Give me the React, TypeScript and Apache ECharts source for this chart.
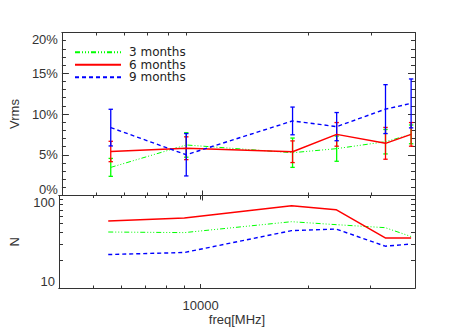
import React, { useEffect, useRef } from "react";
import * as echarts from "echarts";

const freqs = [5500, 9000, 18000, 24000, 33000, 39000];
const seriesNames = ["3 months", "6 months", "9 months"];
const vrms3 = [3.45, 6.2, 5.25, 5.75, 6.6, 7.5];
const err3 = [1.1, 1.5, 1.8, 1.55, 1.5, 1.15];
const vrms6 = [5.4, 5.8, 5.37, 7.5, 6.4, 7.5];
const err6 = [1.25, 1.4, 1.33, 1.45, 1.95, 1.45];
const vrms9 = [8.33, 5.0, 9.15, 8.45, 10.6, 11.3];
const err9 = [2.25, 2.6, 1.7, 1.73, 3.0, 3.0];
const n3 = [40.3, 39.7, 52.1, 48.4, 44.9, 36.0];
const n6 = [52.9, 57.0, 77.5, 70.2, 34.8, 34.8];
const n9 = [23.0, 24.2, 41.7, 43.4, 28.3, 29.9];
const xMajorTicks = [10000];
const xMinorTicks = [5000, 6000, 7000, 8000, 9000, 20000, 30000];
const nMajorTicks = [10, 100];
const nMinorTicks = [20, 30, 40, 50, 60, 70, 80, 90];

const colors = ["#00ff00", "#ff0000", "#0000ff"];
const lineStyles: any[] = [
  { color: colors[0], width: 1, type: [5, 2, 1, 2, 1, 2, 1, 2] },
  { color: colors[1], width: 1.5, type: "solid" },
  { color: colors[2], width: 1.4, type: [4, 3] },
];

const AXIS_COLOR = "#333";
const FONT = "Liberation Sans";

function pts(vals: number[]) {
  return freqs.map((f, i) => [f, vals[i]]);
}
function errs(c: number[], e: number[]) {
  return freqs.map((f, i) => [f, c[i] - e[i], c[i] + e[i]]);
}

export default function App() {
  const ref = useRef<HTMLDivElement>(null);
  useEffect(() => {
    const chart = echarts.init(ref.current!, null, { renderer: "svg" });

    const xBase = (gridIndex: number, position: string, ticks: number[], len: number, extra: any = {}) => ({
      type: "log",
      logBase: 10,
      gridIndex,
      position,
      min: 4000,
      max: 40000,
      axisLine: { show: true, lineStyle: { color: AXIS_COLOR, width: 1 } },
      axisTick: { show: true, inside: true, length: len, customValues: ticks, lineStyle: { color: AXIS_COLOR } },
      axisLabel: { show: false },
      splitLine: { show: false },
      minorTick: { show: false },
      ...extra,
    });

    const xAxis: any[] = [
      xBase(0, "bottom", xMajorTicks, 5),
      xBase(0, "top", xMajorTicks, 5),
      xBase(0, "bottom", xMinorTicks, 3),
      xBase(0, "top", xMinorTicks, 3),
      xBase(1, "bottom", xMajorTicks, 4, {
        axisLabel: {
          show: true,
          customValues: xMajorTicks,
          color: AXIS_COLOR,
          fontSize: 13,
          fontFamily: FONT,
          margin: 11,
          formatter: (v: number) => String(Math.round(v)),
        },
        name: "freq[MHz]",
        nameLocation: "middle",
        nameGap: 23,
        nameTextStyle: { color: AXIS_COLOR, fontSize: 13, fontFamily: FONT },
      }),
      xBase(1, "top", xMajorTicks, 4),
      xBase(1, "bottom", xMinorTicks, 2.5),
      xBase(1, "top", xMinorTicks, 2.5),
    ];

    const pctAxis = (position: string, withLabel: boolean) => ({
      type: "value",
      gridIndex: 0,
      position,
      min: 0,
      max: 20,
      interval: 5,
      axisLine: { show: true, lineStyle: { color: AXIS_COLOR, width: 1 } },
      axisTick: { show: true, inside: true, length: 7, lineStyle: { color: AXIS_COLOR } },
      minorTick: { show: true, splitNumber: 5, length: 4, lineStyle: { color: AXIS_COLOR } },
      axisLabel: {
        show: withLabel,
        formatter: "{value}%",
        color: AXIS_COLOR,
        fontSize: 13,
        fontFamily: FONT,
        margin: 4,
        verticalAlignMinLabel: "bottom",
        verticalAlignMaxLabel: "top",
      },
      splitLine: { show: false },
      ...(withLabel
        ? {
            name: "Vrms",
            nameLocation: "middle",
            nameGap: 38,
            nameTextStyle: { color: AXIS_COLOR, fontSize: 13, fontFamily: FONT },
          }
        : {}),
    });

    const nAxis = (position: string, ticks: number[], len: number, withLabel: boolean, showLine: boolean) => ({
      type: "log",
      logBase: 10,
      gridIndex: 1,
      position,
      min: 10,
      max: 100,
      axisLine: { show: showLine, lineStyle: { color: AXIS_COLOR, width: 1 } },
      axisTick: { show: true, inside: true, length: len, customValues: ticks, lineStyle: { color: AXIS_COLOR } },
      axisLabel: {
        show: withLabel,
        customValues: nMajorTicks,
        color: AXIS_COLOR,
        fontSize: 13,
        fontFamily: FONT,
        margin: 4,
        verticalAlignMinLabel: "bottom",
        verticalAlignMaxLabel: "top",
        formatter: (v: number) => String(Math.round(v)),
      },
      splitLine: { show: false },
      minorTick: { show: false },
      ...(withLabel
        ? {
            name: "N",
            nameLocation: "middle",
            nameGap: 38,
            nameTextStyle: { color: AXIS_COLOR, fontSize: 13, fontFamily: FONT },
          }
        : {}),
    });

    const yAxis: any[] = [
      pctAxis("left", true),
      pctAxis("right", false),
      nAxis("left", nMajorTicks, 7, true, true),
      nAxis("right", nMajorTicks, 7, false, true),
      nAxis("left", nMinorTicks, 4, false, false),
      nAxis("right", nMinorTicks, 4, false, false),
    ];

    const vrms = [vrms3, vrms6, vrms9];
    const errsArr = [err3, err6, err9];
    const ns = [n3, n6, n9];

    const series: any[] = [];
    for (let k = 0; k < 3; k++) {
      series.push({
        name: seriesNames[k],
        type: "line",
        xAxisIndex: 0,
        yAxisIndex: 0,
        data: pts(vrms[k]),
        symbol: "none",
        lineStyle: lineStyles[k],
        itemStyle: { color: colors[k] },
      });
      const color = colors[k];
      series.push({
        name: seriesNames[k] + " err",
        type: "custom",
        coordinateSystem: "cartesian2d",
        xAxisIndex: 0,
        yAxisIndex: 0,
        data: errs(vrms[k], errsArr[k]),
        encode: { x: 0, y: [1, 2] },
        renderItem: (params: any, api: any) => {
          const x = api.value(0);
          const lo = api.value(1);
          const hi = api.value(2);
          const p1 = api.coord([x, hi]);
          const p2 = api.coord([x, lo]);
          const w = 2.2;
          const st = { stroke: color, lineWidth: 1.3, fill: null };
          return {
            type: "group",
            children: [
              { type: "line", shape: { x1: p1[0], y1: p1[1], x2: p2[0], y2: p2[1] }, style: st },
              { type: "line", shape: { x1: p1[0] - w, y1: p1[1], x2: p1[0] + w, y2: p1[1] }, style: st },
              { type: "line", shape: { x1: p2[0] - w, y1: p2[1], x2: p2[0] + w, y2: p2[1] }, style: st },
            ],
          };
        },
      });
    }
    for (let k = 0; k < 3; k++) {
      series.push({
        name: seriesNames[k] + " N",
        type: "line",
        xAxisIndex: 4,
        yAxisIndex: 2,
        data: pts(ns[k]),
        symbol: "none",
        lineStyle: lineStyles[k],
        itemStyle: { color: colors[k] },
      });
    }

    chart.setOption({
      animation: false,
      backgroundColor: "#ffffff",
      textStyle: { fontFamily: FONT },
      grid: [
        { left: 55, top: 32.5, width: 360, height: 163 },
        { left: 55, top: 195.5, width: 360, height: 92.5 },
      ],
      legend: {
        data: seriesNames,
        orient: "vertical",
        left: 74,
        top: 46,
        padding: 0,
        itemWidth: 46,
        itemHeight: 10,
        itemGap: 0,
        itemStyle: { opacity: 0 },
        textStyle: {
          color: "#222",
          fontSize: 12,
          fontFamily: "DejaVu Sans",
          lineHeight: 12.5,
          padding: [0, 0, 0, 3],
        },
        selectedMode: false,
      },
      xAxis,
      yAxis,
      series,
    });
    return () => chart.dispose();
  }, []);
  return (
    <div
      ref={ref}
      style={{ position: "absolute", left: 0, top: 0, width: 462, height: 327, background: "#fff" }}
    />
  );
}
